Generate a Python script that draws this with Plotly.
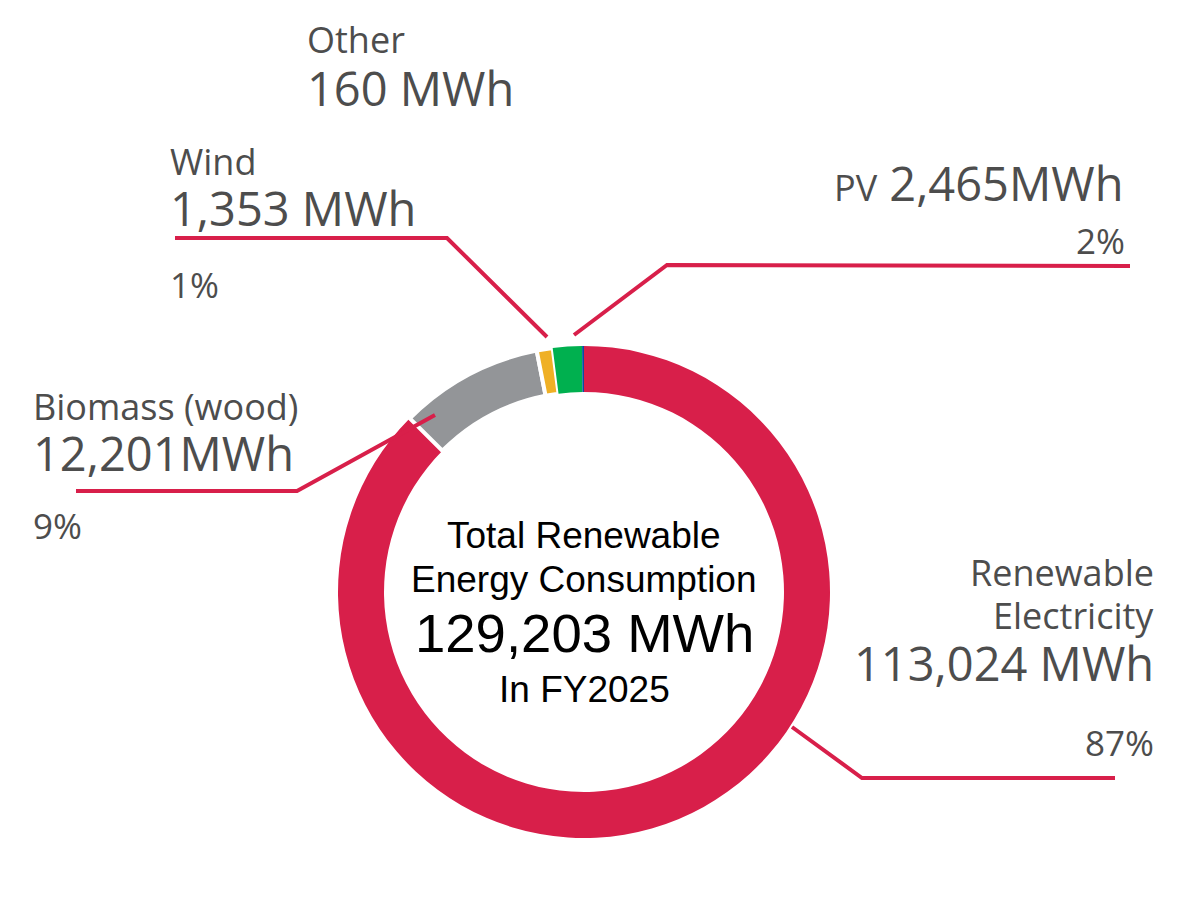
"""
Renewable energy consumption donut (FY2025)
"""

import plotly.graph_objects as go

# ---- data ----
sources = ["Renewable Electricity", "Biomass (wood)", "Wind", "PV", "Other"]
mwh = [113024, 12201, 1353, 2465, 160]
unit_gap = [" ", "", " ", "", " "]  # spacing used in the original labels
fiscal_year = "FY2025"

colors = ["#D81F4A", "#939598", "#EFB025", "#00B04F", "#0A4EA0"]
RED = "#D81F4A"
TEXT = "#4D4D4D"

# page body has an 8px margin, so the figure is drawn 8px in from the corner
OFF = 8
W, H = 1188 - 2 * OFF, 899 - 2 * OFF
total = sum(mwh)


def fx(x):
    return (x - OFF) / W


def fy(y):
    return 1 - (y - OFF) / H


def value_text(i):
    return f"{mwh[i]:,}{unit_gap[i]}MWh"


def share_text(i):
    return f"{round(mwh[i] / total * 100)}%"


# donut center / size in window pixels
cx, cy, r_out = 584, 592, 246

fig = go.Figure()
fig.add_trace(go.Pie(
    labels=sources,
    values=mwh,
    sort=False,
    direction="clockwise",
    rotation=0,
    hole=0.813,
    textinfo="none",
    hoverinfo="label+value+percent",
    marker=dict(
        colors=colors,
        line=dict(color="white", width=[0, 4, 4, 0, 0]),
    ),
    domain=dict(
        x=[fx(cx - r_out), fx(cx + r_out)],
        y=[fy(cy + r_out), fy(cy - r_out)],
    ),
    showlegend=False,
))

annotations = []


def add_text(text, x, y, size, anchor="left", color=TEXT, family="Open Sans"):
    annotations.append(dict(
        text=text, x=fx(x), y=fy(y), xref="paper", yref="paper",
        xanchor=anchor, yanchor="middle", showarrow=False,
        font=dict(family=family, size=size, color=color),
    ))


LBL, VAL, PCT = 36, 47, 35

# Other
add_text("Other", 305, 40, LBL)
add_text(value_text(4), 305, 88, VAL)

# Wind
add_text("Wind", 168, 161, LBL)
add_text(value_text(2), 168, 208, VAL)
add_text(share_text(2), 168, 285, PCT)

# PV
add_text(f"<span style='font-size:{LBL}px'>PV</span> {value_text(3)}", 1126, 183, VAL, anchor="right")
add_text(share_text(3), 1127, 241, PCT, anchor="right")

# Biomass
add_text(sources[1], 31, 406, LBL)
add_text(value_text(1), 31, 453, VAL)
add_text(share_text(1), 31, 525, PCT)

# Renewable electricity
add_text("Renewable", 1156, 572, LBL, anchor="right")
add_text("Electricity", 1156, 615, LBL, anchor="right")
add_text(value_text(0), 1156, 663, VAL, anchor="right")
add_text(share_text(0), 1156, 742, PCT, anchor="right")

# center text
CF = "Liberation Sans, Arial"
add_text("Total Renewable", cx, 535, 37, anchor="center", color="black", family=CF)
add_text("Energy Consumption", cx, 579, 37, anchor="center", color="black", family=CF)
add_text(f"{total:,} MWh", cx, 633, 54.5, anchor="center", color="black", family=CF)
add_text(f"In {fiscal_year}", cx, 689, 37, anchor="center", color="black", family=CF)

# leader lines (pixel positions of the callouts)
leaders = [
    [(175, 238), (447, 238), (547, 337)],
    [(574, 335), (667, 265), (1130, 266)],
    [(76, 491), (297, 491), (435, 415)],
    [(792, 727), (862, 778), (1115, 778)],
]
shapes = []
for pts in leaders:
    path = "M " + " L ".join(f"{fx(x):.5f},{fy(y):.5f}" for x, y in pts)
    shapes.append(dict(
        type="path", path=path, xref="paper", yref="paper",
        line=dict(color=RED, width=4), layer="above",
    ))

fig.update_layout(
    width=W,
    height=H,
    margin=dict(l=0, r=0, t=0, b=0),
    paper_bgcolor="white",
    plot_bgcolor="white",
    annotations=annotations,
    shapes=shapes,
)

fig.write_html("out.html")
